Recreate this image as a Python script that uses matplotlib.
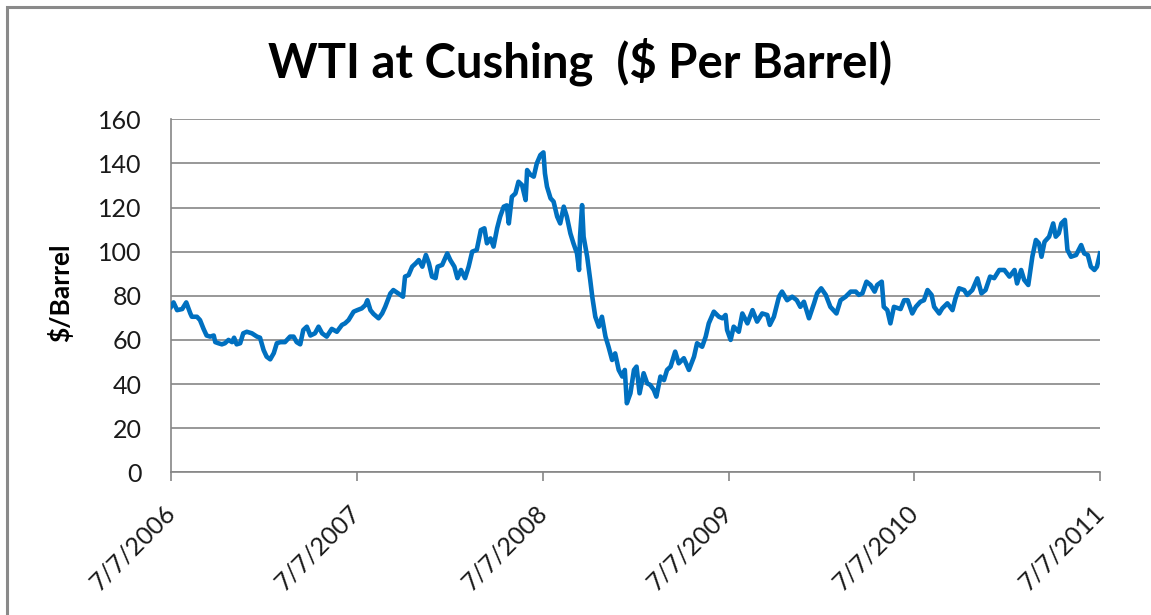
import matplotlib
matplotlib.use("Agg")
import matplotlib.pyplot as plt
from matplotlib.patches import Rectangle
import pandas as pd

# ---------------- data ----------------
dates = [
    "2006-07-07", "2006-07-12", "2006-07-19", "2006-07-29", "2006-08-06", "2006-08-14", "2006-08-17",
    "2006-08-27", "2006-09-02", "2006-09-09", "2006-09-15", "2006-09-22", "2006-09-29", "2006-10-02",
    "2006-10-08", "2006-10-15", "2006-10-21", "2006-10-28", "2006-11-04", "2006-11-08", "2006-11-13",
    "2006-11-20", "2006-11-26", "2006-12-03", "2006-12-13", "2006-12-23", "2006-12-29",
    "2007-01-05", "2007-01-11", "2007-01-18", "2007-01-25", "2007-01-31", "2007-02-07", "2007-02-16",
    "2007-02-26", "2007-03-05", "2007-03-11", "2007-03-18", "2007-03-24", "2007-03-31", "2007-04-07",
    "2007-04-16", "2007-04-23", "2007-04-30", "2007-05-09", "2007-05-19", "2007-05-29", "2007-06-08",
    "2007-06-14", "2007-06-21", "2007-07-01", "2007-07-08", "2007-07-17", "2007-07-24", "2007-07-28",
    "2007-08-03", "2007-08-09", "2007-08-19", "2007-08-26", "2007-09-01", "2007-09-11", "2007-09-17",
    "2007-09-27", "2007-10-06", "2007-10-10", "2007-10-17", "2007-10-24", "2007-10-31", "2007-11-06",
    "2007-11-13", "2007-11-20", "2007-11-26", "2007-12-02", "2007-12-09", "2007-12-13", "2007-12-22",
    "2008-01-01", "2008-01-07", "2008-01-15", "2008-01-21", "2008-01-28", "2008-02-05", "2008-02-12",
    "2008-02-19", "2008-02-28", "2008-03-07", "2008-03-14", "2008-03-19", "2008-03-26", "2008-04-01",
    "2008-04-08", "2008-04-14", "2008-04-21", "2008-04-27", "2008-05-01", "2008-05-07", "2008-05-14",
    "2008-05-20", "2008-05-27", "2008-06-03", "2008-06-06", "2008-06-12", "2008-06-19", "2008-06-25",
    "2008-07-02", "2008-07-08", "2008-07-11", "2008-07-15", "2008-07-22", "2008-07-28", "2008-08-04",
    "2008-08-10", "2008-08-17", "2008-08-23", "2008-08-30", "2008-09-05", "2008-09-12", "2008-09-16",
    "2008-09-18", "2008-09-22", "2008-09-25", "2008-10-02", "2008-10-08", "2008-10-12", "2008-10-18",
    "2008-10-25", "2008-10-31", "2008-11-07", "2008-11-13", "2008-11-20", "2008-11-26", "2008-12-03",
    "2008-12-10", "2008-12-15", "2008-12-19", "2008-12-26",
    "2009-01-02", "2009-01-07", "2009-01-13", "2009-01-21", "2009-01-28", "2009-02-03", "2009-02-10",
    "2009-02-15", "2009-02-23", "2009-03-02", "2009-03-08", "2009-03-15", "2009-03-24", "2009-03-31",
    "2009-04-10", "2009-04-20", "2009-04-30", "2009-05-06", "2009-05-16", "2009-05-23", "2009-05-29",
    "2009-06-08", "2009-06-18", "2009-06-25", "2009-07-01", "2009-07-04", "2009-07-11", "2009-07-17",
    "2009-07-27", "2009-08-03", "2009-08-13", "2009-08-23", "2009-09-01", "2009-09-11", "2009-09-21",
    "2009-09-26", "2009-10-04", "2009-10-14", "2009-10-20", "2009-10-30", "2009-11-09", "2009-11-18",
    "2009-11-25", "2009-12-02", "2009-12-12", "2009-12-22", "2009-12-28",
    "2010-01-05", "2010-01-14", "2010-01-23", "2010-02-04", "2010-02-12", "2010-02-22", "2010-03-04",
    "2010-03-14", "2010-03-20", "2010-03-27", "2010-04-04", "2010-04-12", "2010-04-20", "2010-04-25",
    "2010-05-04", "2010-05-08", "2010-05-15", "2010-05-21", "2010-05-28", "2010-06-10", "2010-06-17",
    "2010-06-24", "2010-07-03", "2010-07-10", "2010-07-19", "2010-07-26", "2010-08-02", "2010-08-10",
    "2010-08-15", "2010-08-25", "2010-08-31", "2010-09-10", "2010-09-20", "2010-09-26", "2010-10-03",
    "2010-10-13", "2010-10-19", "2010-10-29", "2010-11-08", "2010-11-16", "2010-11-24", "2010-12-03",
    "2010-12-11", "2010-12-21", "2010-12-31",
    "2011-01-10", "2011-01-20", "2011-01-25", "2011-02-02", "2011-02-08", "2011-02-16", "2011-02-24",
    "2011-03-03", "2011-03-09", "2011-03-14", "2011-03-20", "2011-03-29", "2011-04-06", "2011-04-11",
    "2011-04-17", "2011-04-22", "2011-04-29", "2011-05-04", "2011-05-11", "2011-05-21", "2011-05-31",
    "2011-06-06", "2011-06-13", "2011-06-19", "2011-06-26", "2011-07-01", "2011-07-07",
]

prices = [
    75, 77, 73.5, 74, 77, 72, 70.5,
    70.5, 69, 65, 62, 61.5, 62, 59,
    58.5, 58, 58.5, 60, 59, 61, 58,
    58.5, 63, 63.7, 63, 61.5, 61,
    55.4, 52.4, 51.2, 54, 58.5, 59, 59,
    61.5, 61.5, 59, 58, 64.5, 66, 62,
    63, 66, 63, 61.5, 65, 63.7, 66.8,
    67.5, 69, 72.8, 73.5, 74.3, 75.8, 78,
    73.5, 71.8, 69.8, 72, 75, 81, 82.6,
    81, 79.6, 88.7, 89.4, 93.2, 94.7, 96.2,
    93.2, 98.5, 94.7, 88.7, 88, 93.2, 94,
    99.2, 96.2, 93.2, 88, 91.7, 88, 93.2,
    100, 100.8, 109.8, 110.6, 103.8, 106, 102.3,
    110.6, 115.9, 120.4, 121, 112.8, 124.9, 126.4,
    131.7, 130.2, 123.4, 137, 135, 134, 140,
    143.8, 145, 135.5, 129.5, 124.2, 122.7, 115.9,
    112.8, 120.4, 115.9, 108.3, 103.8, 99.2, 91.7,
    106.8, 121.1, 106.8, 97.7, 87.2, 79.6, 70.5,
    66, 70.5, 61.5, 56.9, 50.9, 53.9, 46.4,
    43.4, 46.4, 31.3, 35.8,
    46.4, 47.9, 35.8, 44.9, 40.3, 39.6, 37.3,
    34.3, 43.4, 41.8, 46.4, 47.9, 54.7, 49.4,
    51.7, 46.4, 52.4, 58.5, 56.9, 61.5, 67.5,
    72.8, 70.5, 69.8, 71.3, 64.5, 60, 66,
    63.7, 72, 67.5, 73.5, 68.3, 72, 71.3,
    66.8, 70.5, 79.6, 81.9, 78, 79.6, 78,
    75, 77.3, 69.8, 76.6, 81.1,
    83.4, 80.4, 75, 72, 78, 79.6, 81.9,
    81.9, 80.4, 81.1, 86.4, 84.9, 81.9, 84.9,
    86.4, 75, 73.5, 67.5, 75, 74, 78,
    78, 72, 75, 77.3, 78, 82.6, 80.4,
    75, 72, 74.3, 76.6, 73.5, 78.9, 83.4,
    82.6, 80.4, 82.6, 87.9, 81.1, 82.6, 88.7,
    88, 91.7, 91.7,
    88.7, 91.7, 85.6, 91.7, 87.2, 84.9, 97.7,
    105.3, 103.8, 97.7, 104.5, 106.8, 112.8, 106.8,
    108.3, 112.8, 114.4, 100.8, 97.7, 98.5, 103,
    99.2, 98.5, 93.2, 91.7, 93.2, 99.2,
]

tick_dates = ["2006-07-07", "2007-07-07", "2008-07-07", "2009-07-07", "2010-07-07", "2011-07-07"]
tick_labels = ["7/7/2006", "7/7/2007", "7/7/2008", "7/7/2009", "7/7/2010", "7/7/2011"]
y_ticks = [0, 20, 40, 60, 80, 100, 120, 140, 160]

title = "WTI at Cushing  ($ Per Barrel)"
ylabel = "$/Barrel"

# ---------------- styling ----------------
plt.rcParams["font.family"] = ["Lato", "DejaVu Sans"]
GRID = "#868686"
LINE = "#0070C0"

W, H = 1151, 615
fig = plt.figure(figsize=(W / 100, H / 100), dpi=100)
fig.patch.set_facecolor("white")

# outer chart border (runs off the right and bottom edges, as in the reference)
fig.add_artist(Rectangle((7 / W, -0.05), 1.1, 1 - 7 / H + 0.05, transform=fig.transFigure,
                         fill=False, edgecolor="#8a8a8a", linewidth=2.2, zorder=0))

ax = fig.add_axes([171 / W, 1 - 472.3 / H, (1100 - 171) / W, (472.3 - 119.3) / H])

x = pd.to_datetime(dates)
ax.plot(x, prices, color=LINE, linewidth=3.3, solid_joinstyle="round", zorder=3)

ax.set_xlim(pd.Timestamp(tick_dates[0]), pd.Timestamp(tick_dates[-1]))
ax.set_ylim(y_ticks[0], y_ticks[-1])
ax.set_yticks(y_ticks)
ax.set_xticks(pd.to_datetime(tick_dates))
ax.set_xticklabels(tick_labels, rotation=45, ha="right", va="center", rotation_mode="anchor")

ax.yaxis.grid(True, color=GRID, linewidth=1.2)
ax.set_axisbelow(True)
for s in ["top", "right"]:
    ax.spines[s].set_visible(False)
for s in ["left", "bottom"]:
    ax.spines[s].set_color(GRID)
    ax.spines[s].set_linewidth(1.2)

ax.tick_params(axis="y", length=0, pad=21, labelsize=18, labelcolor="#1a1a1a")
ax.tick_params(axis="x", length=6.5, width=1.2, color=GRID, direction="out", pad=20,
               labelsize=18, labelcolor="#1a1a1a")

fig.text(580 / W, 1 - 62 / H, title, ha="center", va="center", fontsize=34, fontweight="bold",
         color="black")
fig.text(60 / W, 1 - 293 / H, ylabel, ha="center", va="center", rotation=90, fontsize=19,
         fontweight="bold", color="black")

fig.savefig("out.png", dpi=100)
